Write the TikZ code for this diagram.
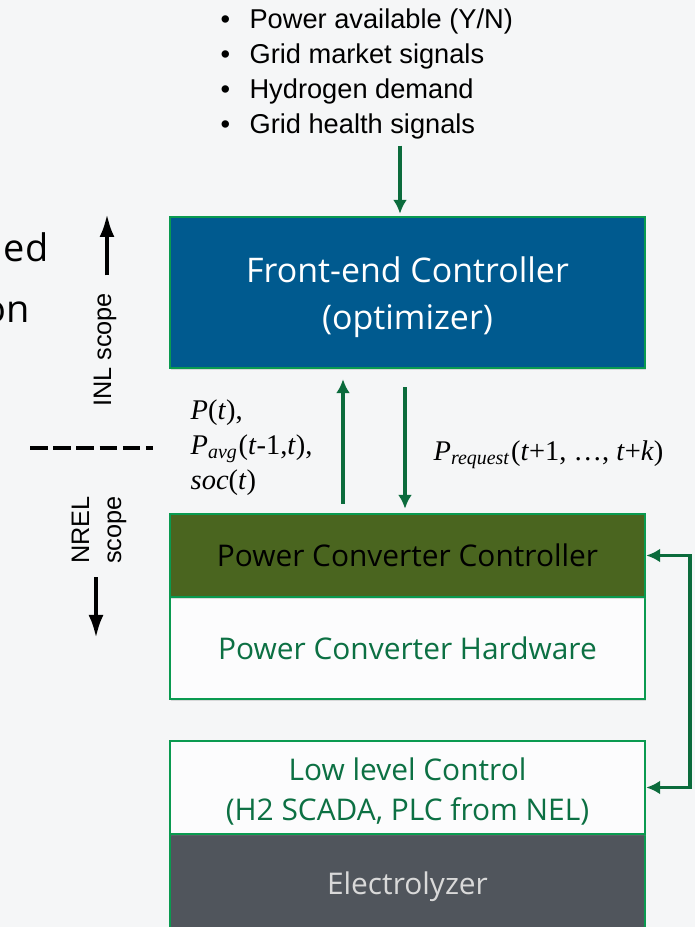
\documentclass[tikz,border=0pt]{standalone}
\usepackage{fontspec}
\setmainfont{Open Sans}
\newfontfamily\listfont{Liberation Sans}
\newfontfamily\timesfont{Liberation Serif}
\usetikzlibrary{shadows,arrows.meta}
\definecolor{pagegray}{HTML}{F5F6F7}
\definecolor{panelwhite}{HTML}{FCFCFD}
\definecolor{frontblue}{HTML}{005A8F}
\definecolor{pccolive}{HTML}{4A651F}
\definecolor{elecgray}{HTML}{50555C}
\definecolor{edgegreen}{HTML}{0A9A50}
\definecolor{flowgreen}{HTML}{0B6B3C}
\definecolor{labelgreen}{HTML}{0C7043}
\begin{document}
\begin{tikzpicture}[
        block/.style={draw=edgegreen,line width=0.7pt,minimum width=4.75cm,inner sep=0pt,align=center,
            drop shadow={shadow xshift=0.3pt,shadow yshift=-0.6pt,opacity=0.25}},
        flow/.style={flowgreen,line width=1.1pt,-{Latex[length=1.4mm,width=1.4mm]}},
        scopearrow/.style={black,line width=1.1pt,-{Latex[length=2.3mm,width=1.5mm]}},
        scopelabel/.style={font=\listfont\fontsize{7.2}{9.1}\selectfont,rotate=90,align=center,inner sep=0pt},
        signal/.style={font=\timesfont\fontsize{8.1}{10}\selectfont,align=left,inner sep=0pt,anchor=west}
    ]
    \fill[pagegray] (0,0) rectangle (6.95,9.27);
    \clip (0,0) rectangle (6.95,9.27);
    % boxes
    \node[block,fill=frontblue,text=white,minimum height=1.51cm,font=\fontsize{9.65}{13.4}\selectfont] (frontend) at (4.075,6.345) {\rule{0pt}{10.2pt}Front-end Controller\\(optimizer)};
    \node[block,fill=panelwhite,text=labelgreen,minimum height=1.02cm,font=\fontsize{8.5}{10}\selectfont] (hardware) at (4.075,2.79) {Power Converter Hardware};
    \node[block,fill=pccolive,text=black,minimum height=0.83cm,font=\fontsize{8.5}{10}\selectfont] (pcc) at (4.075,3.715) {Power Converter Controller};
    \node[block,fill=elecgray,text=white!85!black,minimum height=1.06cm,font=\fontsize{8.5}{10}\selectfont] (electrolyzer) at (4.075,0.40) {Electrolyzer};
    \node[block,fill=panelwhite,text=labelgreen,minimum height=0.93cm,font=\fontsize{8.5}{11.4}\selectfont] (lowlevel) at (4.075,1.395) {\rule{0pt}{8.8pt}Low level Control\\(H2 SCADA, PLC from NEL)};
    % inputs
    \node[anchor=north west,inner sep=0pt,align=left,font=\listfont\fontsize{7.75}{9.95}\selectfont] (inputs) at (2.20,9.19) {%
        \textbullet\hspace{0.71em}Power available (Y/N)\\
        \textbullet\hspace{0.71em}Grid market signals\\
        \textbullet\hspace{0.71em}Hydrogen demand\\
        \textbullet\hspace{0.71em}Grid health signals};
    \coordinate (inputarrow) at (4.00,0);
    \coordinate (uparrow) at (3.43,0);
    \coordinate (downarrow) at (4.05,0);
    \draw[flow,shorten <=0.06cm,shorten >=0.02cm] (inputarrow |- inputs.south) -- (inputarrow |- frontend.north);
    \draw[flow,shorten <=0.09cm,shorten >=0.10cm] (uparrow |- pcc.north) -- (uparrow |- frontend.south);
    \draw[flow,shorten <=0.18cm,shorten >=0.04cm] (downarrow |- frontend.south) -- (downarrow |- pcc.north);
    % feedback loop
    \coordinate (loopright) at (6.90,0);
    \draw[flow] (loopright |- pcc.east) coordinate (looptop) -- (pcc.east);
    \draw[flow] (loopright |- lowlevel.east) coordinate (loopbottom) -- (lowlevel.east);
    \draw[flowgreen,line width=1.1pt,line cap=rect] (looptop) -- (loopbottom);
    % signals
    \node[signal] (feedback) at (1.90,4.79) {\textit{P}(\textit{t}),\\\textit{P}\textsubscript{\textit{avg}}(\textit{t}-1,\textit{t}),\\\textit{soc}(\textit{t})};
    \node[signal] (request) at (4.33,4.72) {\textit{P}\textsubscript{\textit{request}}(\textit{t}+1, \dots, \textit{t}+\textit{k})};
    % scope
    \coordinate (dashleft) at (0.30,4.79);
    \coordinate (dashright) at (1.53,4.79);
    \draw[black,line width=1.4pt,dash pattern=on 5pt off 1.6pt] (dashleft) -- (dashright);
    \node[scopelabel] (inl) at (1.05,5.77) {INL scope};
    \node[scopelabel] (nrel) at (0.99,3.97) {NREL\\scope};
    \coordinate (inltip) at (1.07,7.13);
    \coordinate (nreltip) at (0.96,2.89);
    \draw[scopearrow,shorten <=0.17cm] (inltip |- inl.east) -- (inltip);
    \draw[scopearrow,shorten <=0.13cm] (nreltip |- nrel.west) -- (nreltip);
    % cut off text
    \node[anchor=base east,inner sep=0pt,font=\fontsize{10.8}{11}\selectfont] (edtext) at (0.49,6.65) {ed};
    \node[anchor=base east,inner sep=0pt,font=\fontsize{10.8}{11}\selectfont] (ontext) at (0.30,6.04) {on};
    \useasboundingbox (0,0) rectangle (6.95,9.27);
\end{tikzpicture}
\end{document}
